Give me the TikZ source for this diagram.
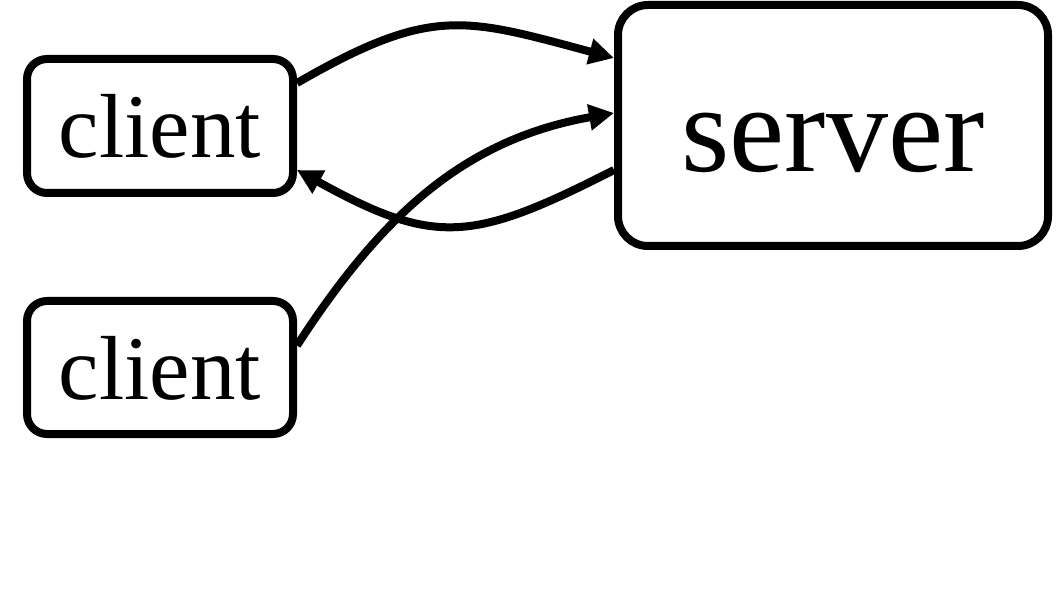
\documentclass[tikz,border=0pt]{standalone}
\usepackage{fontspec}
\setmainfont{Liberation Serif}
\usetikzlibrary{arrows.meta}
\begin{document}
\begin{tikzpicture}[x=1pt,y=1pt,
  box/.style={draw=black,line width=8pt,rounded corners=20pt,inner sep=0pt,fill=white},
  conn/.style={line width=8pt,-{Triangle[length=25pt,width=25pt]}}]
\useasboundingbox (0,0) rectangle (1056,600);
\node[box,minimum width=266pt,minimum height=134pt,font=\fontsize{91}{100}\selectfont,text height=64pt,text depth=0pt] (c1) at (160,474) {client};
\node[box,minimum width=266pt,minimum height=133pt,font=\fontsize{91}{100}\selectfont,text height=64pt,text depth=0pt] (c2) at (160,232.5) {client};
\node[box,rounded corners=30pt,minimum width=430pt,minimum height=241pt,font=\fontsize{124}{130}\selectfont,text height=93pt,text depth=0pt] (s) at (833,474.5) {server};
\draw[conn] ([yshift=43pt]c1.east) to[out=30,in=165,looseness=1.25] ([yshift=67.5pt]s.west);
\draw[conn] ([yshift=22pt]c2.east) to[out=57,in=190] ([yshift=12.5pt]s.west);
\draw[conn] ([yshift=-44.5pt]s.west) to[out=207,in=331,looseness=1.28] ([yshift=-44pt]c1.east);
\end{tikzpicture}
\end{document}
